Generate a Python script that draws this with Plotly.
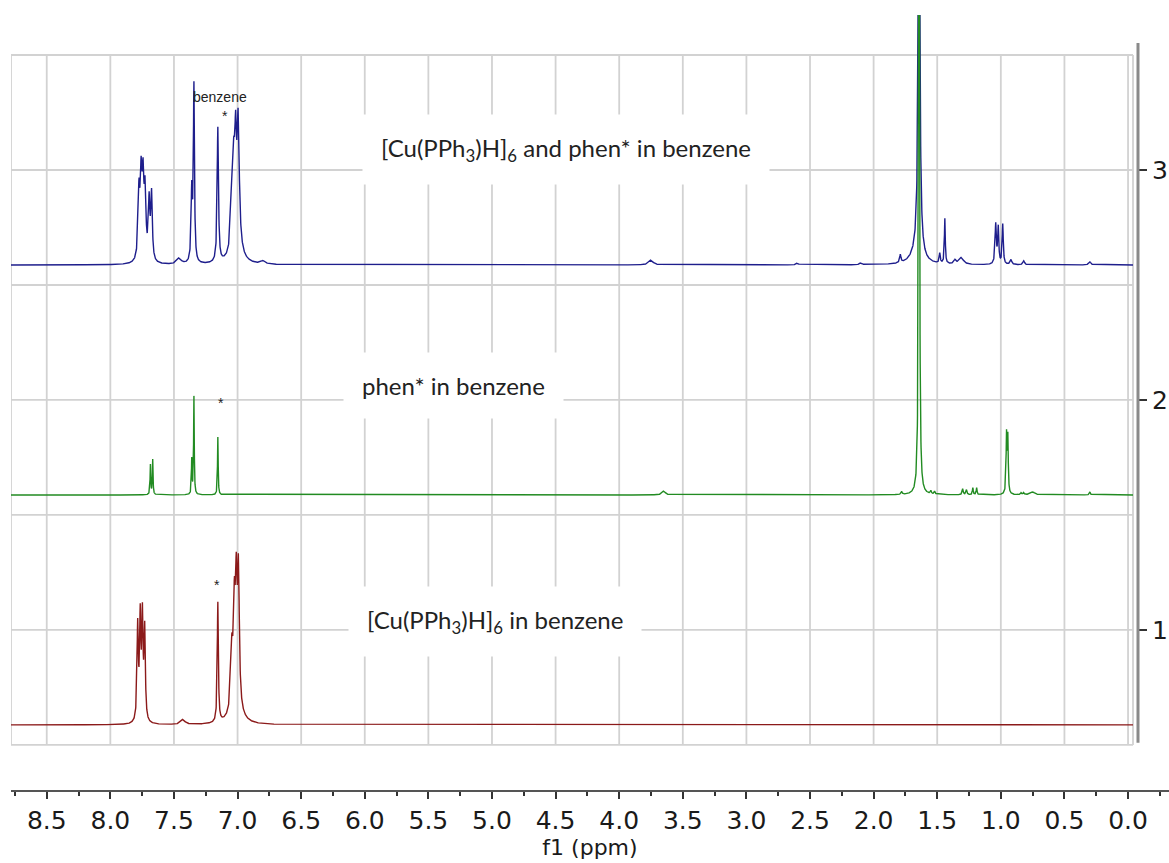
import numpy as np
import plotly.graph_objects as go

# ---------------- data ----------------
spectrum_ids = [3, 2, 1]
spectrum_labels = [
    "[Cu(PPh<sub>3</sub>)H]<sub>6</sub> and phen* in benzene",
    "phen* in benzene",
    "[Cu(PPh<sub>3</sub>)H]<sub>6</sub> in benzene",
]
baseline_offsets = [2.587, 1.587, 0.587]
colors = ["#1e1e8c", "#228b22", "#8b1a1a"]
INTENSITY_PER_STEP = 230.0  # intensity units per stack step

# peak tables: position (ppm), intensity (a.u.), half width (ppm)
blue_ppm = [7.775, 7.758, 7.743, 7.727, 7.695, 7.676, 7.46, 7.36, 7.343, 7.155,
            7.045, 7.03, 7.015, 6.995, 7.01, 6.80, 3.75, 2.60, 2.10, 1.79,
            1.643, 1.66, 1.48, 1.44, 1.36, 1.31, 1.04, 1.02, 0.985, 0.92, 0.82, 0.30]
blue_int = [66, 76, 72, 64, 58, 66, 6, 70, 175, 135,
            45, 70, 85, 120, 20, 3, 5, 2, 2, 8,
            400, 12, 10, 45, 4, 7, 40, 36, 40, 5, 4, 3]
blue_hw = [0.008, 0.008, 0.008, 0.008, 0.007, 0.007, 0.02, 0.006, 0.005, 0.006,
           0.01, 0.01, 0.008, 0.01, 0.04, 0.02, 0.02, 0.01, 0.01, 0.006,
           0.008, 0.05, 0.005, 0.004, 0.01, 0.02, 0.006, 0.005, 0.005, 0.008, 0.008, 0.01]

green_ppm = [7.685, 7.667, 7.36, 7.343, 7.155, 3.65, 1.78, 1.643, 1.55, 1.52,
             1.30, 1.27, 1.22, 1.19, 0.955, 0.945, 0.84, 0.82, 0.75, 0.30]
green_int = [30, 35, 35, 98, 58, 4, 3, 800, 3, 3,
             6, 5, 7, 7, 58, 55, 2, 2, 3, 3]
green_hw = [0.003, 0.003, 0.003, 0.003, 0.003, 0.015, 0.005, 0.004, 0.005, 0.005,
            0.005, 0.005, 0.004, 0.004, 0.004, 0.004, 0.005, 0.005, 0.02, 0.005]

red_ppm = [7.785, 7.765, 7.748, 7.73, 7.43, 7.155, 7.045, 7.025, 7.01, 6.993, 7.01]
red_int = [95, 100, 100, 90, 5, 120, 60, 90, 110, 130, 15]
red_hw = [0.006, 0.006, 0.006, 0.006, 0.02, 0.005, 0.01, 0.008, 0.008, 0.008, 0.05]

peak_tables = [
    (blue_ppm, blue_int, blue_hw),
    (green_ppm, green_int, green_hw),
    (red_ppm, red_int, red_hw),
]

x_ticks = [8.5, 8.0, 7.5, 7.0, 6.5, 6.0, 5.5, 5.0, 4.5, 4.0, 3.5, 3.0, 2.5, 2.0, 1.5, 1.0, 0.5, 0.0]
x_tick_text = ["8.5", "8.0", "7.5", "7.0", "6.5", "6.0", "5.5", "5.0", "4.5", "4.0",
               "3.5", "3.0", "2.5", "2.0", "1.5", "1.0", "0.5", "0.0"]

# ---------------- geometry ----------------
X_LEFT, X_FRAME_RIGHT, X_AXIS_RIGHT = 8.781, -0.039, -0.322
Y_BOTTOM, Y_TOP = 0.304, 3.674

ppm = np.arange(X_FRAME_RIGHT, X_LEFT + 1e-9, 0.001)

traces = []
for (pp, ii, hw), off, col, sid in zip(peak_tables, baseline_offsets, colors, spectrum_ids):
    y = np.zeros_like(ppm)
    for p, h, w in zip(pp, ii, hw):
        y += h / (1.0 + ((ppm - p) / w) ** 2)
    traces.append(go.Scatter(x=ppm, y=off + y / INTENSITY_PER_STEP, mode="lines",
                             line=dict(color=col, width=1.4), name=str(sid),
                             showlegend=False, hoverinfo="skip"))

# green drawn on top (as in reference)
fig = go.Figure(data=[traces[0], traces[2], traces[1]])

shapes = []
grid_col = "#d2d2d2"
for xv in x_ticks + [X_LEFT, X_FRAME_RIGHT]:
    shapes.append(dict(type="line", xref="x", yref="y", x0=xv, x1=xv, y0=0.5, y1=3.5,
                       line=dict(color=grid_col, width=1.8), layer="below"))
for yv in [0.5, 1.0, 1.5, 2.0, 2.5, 3.0, 3.5]:
    shapes.append(dict(type="line", xref="x", yref="y", x0=X_LEFT, x1=X_FRAME_RIGHT, y0=yv, y1=yv,
                       line=dict(color=grid_col, width=1.8), layer="below"))
RIGHT_AXIS_POS = (1138 - 11) / 1158
shapes.append(dict(type="line", xref="paper", yref="y", x0=RIGHT_AXIS_POS, x1=RIGHT_AXIS_POS,
                   y0=0.509, y1=3.552, line=dict(color="#8a8a8a", width=3)))

annotations = []
label_pos = [(4.42, 3.087), (5.30, 2.065), (4.98, 1.035)]
for txt, (xa, ya) in zip(spectrum_labels, label_pos):
    annotations.append(dict(x=xa, y=ya, xref="x", yref="y", text=txt, showarrow=False,
                            font=dict(family="Lato", size=24, color="#222"),
                            bgcolor="white", borderpad=18))
annotations += [
    dict(x=7.14, y=3.317, text="benzene", showarrow=False,
         font=dict(family="Liberation Sans", size=14, color="#222")),
    dict(x=7.10, y=3.235, text="*", showarrow=False,
         font=dict(family="Liberation Sans", size=14, color="#222")),
    dict(x=7.13, y=1.985, text="*", showarrow=False,
         font=dict(family="Liberation Sans", size=14, color="#222")),
    dict(x=7.165, y=1.195, text="*", showarrow=False,
         font=dict(family="Liberation Sans", size=14, color="#222")),
]

fig.update_layout(
    width=1169, height=863,
    margin=dict(l=11, r=0, t=15, b=73),
    paper_bgcolor="white", plot_bgcolor="white",
    shapes=shapes, annotations=annotations,
    xaxis=dict(range=[X_LEFT, X_AXIS_RIGHT], tickvals=x_ticks, ticktext=x_tick_text,
               ticks="outside", ticklen=7, tickwidth=1.5, tickcolor="#333",
               showline=True, linecolor="#555", linewidth=2, showgrid=False, zeroline=False,
               tickfont=dict(family="DejaVu Sans", size=25, color="#1a1a1a"),
               ticklabelstandoff=0,
               minor=dict(tickvals=[8.75, 8.25, 7.75, 7.25, 6.75, 6.25, 5.75, 5.25, 4.75, 4.25,
                                    3.75, 3.25, 2.75, 2.25, 1.75, 1.25, 0.75, 0.25, -0.25],
                          ticks="outside", ticklen=4, tickwidth=1.5, tickcolor="#333"),
               title=dict(text="f1 (ppm)", font=dict(family="DejaVu Sans", size=22, color="#1a1a1a"),
                          standoff=2)),
    yaxis=dict(range=[Y_BOTTOM, Y_TOP], side="right", anchor="free", position=RIGHT_AXIS_POS,
               tickvals=spectrum_ids, ticktext=[str(s) for s in spectrum_ids],
               ticks="outside", ticklen=8, tickwidth=1.5, tickcolor="#333",
               showline=False, showgrid=False, zeroline=False,
               tickfont=dict(family="DejaVu Sans", size=25, color="#1a1a1a")),
)

fig.write_html("out.html", config={"displayModeBar": False},
               post_script="document.body.style.margin='0';document.body.style.overflow='hidden';")
